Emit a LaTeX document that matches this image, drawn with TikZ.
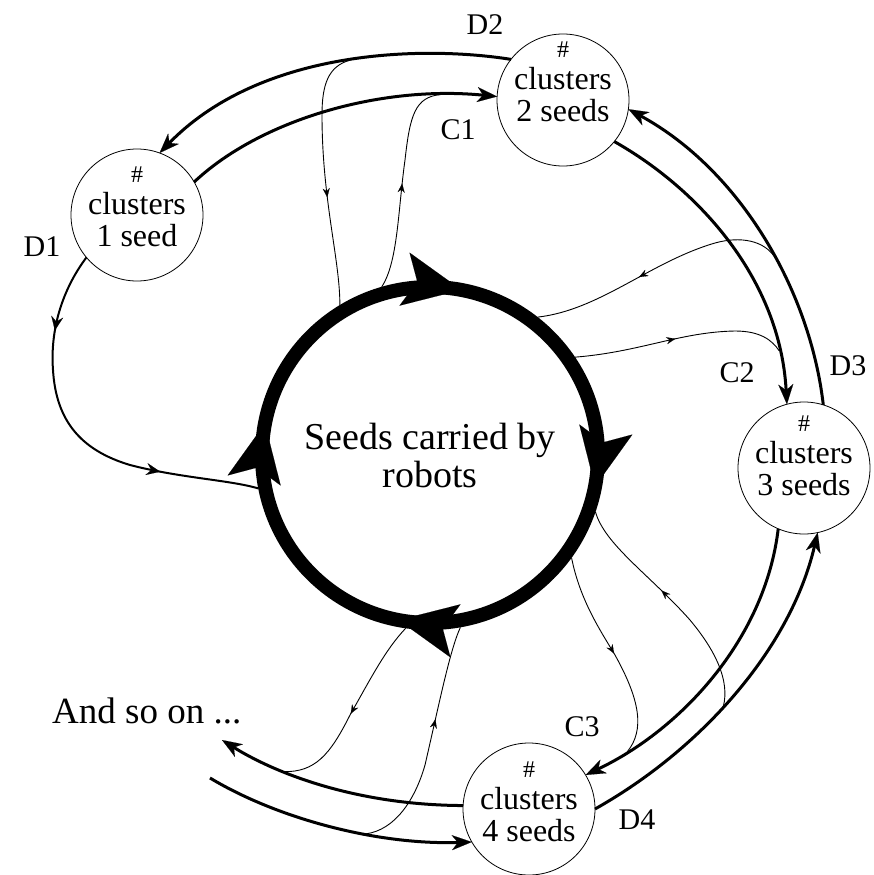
\documentclass[tikz,border=0pt]{standalone}
\usepackage{fontspec}
\setmainfont{Liberation Serif}
\usetikzlibrary{arrows.meta,decorations.markings}
\begin{document}
\begin{tikzpicture}[x=1pt,y=-1pt,
  clus/.style={circle,draw,line width=0.8pt,minimum size=132pt,inner sep=0pt,outer sep=0pt},
  ctext/.style={align=center,inner sep=0pt,font=\fontsize{32}{32}\selectfont},
  lbl/.style={inner sep=0pt,font=\fontsize{30}{30}\selectfont},
  ringtip/.tip={Stealth[length=58pt,width=54pt,inset=13pt,line width=0.1pt]},
  bigflow/.style={line width=3pt,-{Stealth[length=20pt,width=15pt,inset=6pt,line width=0.1pt]}},
  thinflow/.style={line width=0.9pt},
  midarrow/.style={postaction={decorate},decoration={markings,mark=at position #1 with {\arrow{Stealth[length=9pt,width=7pt,line width=0.1pt]}}}},
  d1flow/.style={line width=2pt,postaction={decorate},decoration={markings,
     mark=at position 0.21 with {\arrow{Stealth[length=14pt,width=12pt,inset=5pt,line width=0.1pt]}},
     mark=at position 0.74 with {\arrow{Stealth[length=14pt,width=12pt,inset=5pt,line width=0.1pt]}}}}
]
\useasboundingbox (0,0) rectangle (873,875);

% central ring
\node[circle,minimum size=350pt,inner sep=0pt,outer sep=0pt,align=center,
      font=\fontsize{38}{38}\selectfont] (ring) at (430,455) {Seeds carried by\\robots};
\draw[line width=14pt] (ring.center) circle[radius=168pt];
\path[decorate,decoration={markings,
   mark=at position 0.03 with {\arrow{ringtip}},
   mark=at position 0.28 with {\arrow{ringtip}},
   mark=at position 0.53 with {\arrow{ringtip}},
   mark=at position 0.78 with {\arrow{ringtip}}}]
   (ring.center) ++(0:168pt) arc[start angle=0,end angle=-360,radius=168pt];

% cluster circles
\node[clus] (c1) at (137,215) {};
\node[clus] (c2) at (563,100) {};
\node[clus] (c3) at (804,468) {};
\node[clus] (c4) at (529,809) {};
\node[ctext] (t1) at (137,207) {{\fontsize{24}{24}\selectfont\#}\\clusters\\1 seed};
\node[ctext] (t2) at (563,82) {{\fontsize{24}{24}\selectfont\#}\\clusters\\2 seeds};
\node[ctext] (t3) at (804,456) {{\fontsize{24}{24}\selectfont\#}\\clusters\\3 seeds};
\node[ctext] (t4) at (529,802) {{\fontsize{24}{24}\selectfont\#}\\clusters\\4 seeds};

% labels
\node[lbl] (lD2) at (485,25) {D2};
\node[lbl] (lC1) at (458,130) {C1};
\node[lbl] (lD1) at (42,247) {D1};
\node[lbl] (lC2) at (737,373) {C2};
\node[lbl] (lD3) at (848,366) {D3};
\node[lbl] (lC3) at (582,727) {C3};
\node[lbl] (lD4) at (637,820) {D4};
\node[anchor=base west,inner sep=0pt,font=\fontsize{37}{37}\selectfont] (more) at (52,723) {And so on ...};

% thick flows between clusters
\draw[bigflow] (c2.142) .. controls (420,45) and (260,50) .. (c1.70) coordinate[pos=0.47] (jD2);
\draw[bigflow] (c1.30) .. controls (260,120) and (380,85) .. (c2.177) coordinate[pos=0.84] (jC1);
\draw[bigflow] (c2.-39) .. controls (700,190) and (780,280) .. (c3.105) coordinate[pos=0.85] (jC2);
\draw[bigflow] (c3.73) .. controls (810,290) and (740,170) .. (c2.-8) coordinate[pos=0.43] (jD3);
\draw[bigflow] (c3.247) .. controls (765,640) and (680,730) .. (c4.31) coordinate[pos=0.85] (jC3);
\draw[bigflow] (c4.0) .. controls (700,750) and (790,650) .. (c3.-78) coordinate[pos=0.45] (jD4);
\coordinate (soon) at (222,740);
\coordinate (from) at (210,778);
\draw[bigflow] (c4.177) .. controls (350,805) and (270,770) .. (soon) coordinate[pos=0.65] (jOut);
\draw[bigflow] (from) .. controls (280,820) and (380,845) .. (c4.210) coordinate[pos=0.62] (jIn);

% D1 flow back to ring
\draw[d1flow] (c1.220) .. controls (62,290) and (50,330) .. (53,370)
   .. controls (56,420) and (80,450) .. (130,465)
   .. controls (180,478) and (230,480) .. (ring.191);

% thin exchanges with the ring
\draw[thinflow,midarrow=0.58] (jD2) .. controls (328,66) and (322,85) .. (322,115)
   .. controls (322,200) and (340,260) .. (ring.121);
\draw[thinflow,midarrow=0.5] (ring.106) .. controls (398,262) and (398,210) .. (405,160)
   .. controls (410,115) and (415,97) .. (jC1);
\draw[thinflow,midarrow=0.58] (jD3) .. controls (765,240) and (740,236) .. (715,243)
   .. controls (650,262) and (600,310) .. (ring.52);
\draw[thinflow,midarrow=0.48] (ring.34) .. controls (640,352) and (680,332) .. (735,331)
   .. controls (760,331) and (772,340) .. (jC2);
\draw[thinflow,midarrow=0.57] (jD4) .. controls (730,680) and (715,650) .. (690,620)
   .. controls (650,575) and (605,545) .. (ring.-19);
\draw[thinflow,midarrow=0.5] (ring.-36) .. controls (580,600) and (600,630) .. (615,655)
   .. controls (640,700) and (645,730) .. (jC3);
\draw[thinflow,midarrow=0.52] (ring.-98) .. controls (385,650) and (370,680) .. (350,715)
   .. controls (330,755) and (315,772) .. (jOut);
\draw[thinflow,midarrow=0.6] (jIn) .. controls (395,830) and (415,800) .. (425,765)
   .. controls (440,700) and (450,650) .. (ring.-80);
\end{tikzpicture}
\end{document}
